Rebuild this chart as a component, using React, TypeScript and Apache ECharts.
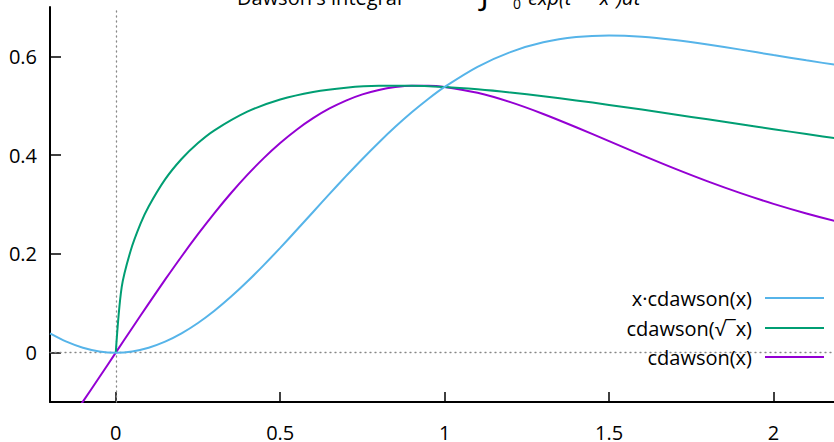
import React, { useEffect, useRef } from "react";
import * as echarts from "echarts";

// x samples for cdawson(x) and x·cdawson(x)
const X_MAIN = [
  -0.2, -0.15, -0.1, -0.05, 0, 0.05, 0.1, 0.15, 0.2, 0.25, 0.3, 0.35, 0.4, 0.45, 0.5,
  0.55, 0.6, 0.65, 0.7, 0.75, 0.8, 0.85, 0.9, 0.95, 1.0, 1.1, 1.2, 1.3, 1.4, 1.5, 1.6,
  1.7, 1.8, 1.9, 2.0, 2.1, 2.2, 2.3,
];
// cdawson(x)
const DAWSON = [
  -0.194751, -0.14777, -0.099336, -0.049917, 0, 0.049917, 0.099336, 0.14777, 0.194751,
  0.239839, 0.282632, 0.32277, 0.359943, 0.393899, 0.424436, 0.451418, 0.474763,
  0.494448, 0.510504, 0.523013, 0.532102, 0.537939, 0.540724, 0.540688, 0.53808,
  0.526207, 0.507273, 0.483398, 0.456507, 0.428249, 0.39994, 0.372559, 0.346773,
  0.322974, 0.30134, 0.281885, 0.264511, 0.249053,
];
// x·cdawson(x)
const X_DAWSON = [
  0.03895, 0.022166, 0.009934, 0.002496, 0, 0.002496, 0.009934, 0.022166, 0.03895,
  0.05996, 0.08479, 0.11297, 0.143977, 0.177255, 0.212218, 0.24828, 0.284858, 0.321391,
  0.357353, 0.39226, 0.425682, 0.457248, 0.486652, 0.513654, 0.53808, 0.578828,
  0.608728, 0.628417, 0.63911, 0.642374, 0.639904, 0.63335, 0.624191, 0.613651,
  0.602681, 0.591958, 0.581924, 0.572822,
];
// x samples for cdawson(√x)
const X_SQRT = [
  0, 0.018, 0.045, 0.075, 0.1, 0.15, 0.2, 0.25, 0.3, 0.4, 0.5, 0.6, 0.7, 0.8, 0.9, 1.0,
  1.1, 1.2, 1.3, 1.4, 1.5, 1.6, 1.7, 1.8, 1.9, 2.0, 2.1, 2.2, 2.3,
];
const DAWSON_SQRT = [
  0, 0.132566, 0.205881, 0.26057, 0.295966, 0.350795, 0.392096, 0.424436, 0.450269,
  0.487959, 0.512496, 0.527902, 0.536691, 0.540558, 0.540724, 0.53808, 0.533263,
  0.526918, 0.51935, 0.510854, 0.501741, 0.492226, 0.48241, 0.472444, 0.462484,
  0.452539, 0.442674, 0.433021, 0.423529,
];

const X_TICKS = [0, 0.5, 1, 1.5, 2];
const Y_TICKS = [0, 0.2, 0.4, 0.6];

const NAMES = ["x·cdawson(x)", "cdawson(√‾x)", "cdawson(x)"];
const COLORS = ["#56b4e9", "#009e73", "#9400d3"];
const LEGEND_TOPS = [286, 316, 345];

const FONT = "'Open Sans', 'Noto Sans', sans-serif";

export default function App() {
  const ref = useRef<HTMLDivElement>(null);
  useEffect(() => {
    if (!ref.current) return;
    const chart = echarts.init(ref.current, undefined, { renderer: "svg" });
    const zip = (xs: number[], ys: number[]) => xs.map((x, i) => [x, ys[i]]);
    const lineSeries = (name: string, color: string, data: number[][], extra: any = {}) => ({
      type: "line",
      name,
      data,
      showSymbol: false,
      symbol: "none",
      smooth: 0.3,
      clip: true,
      lineStyle: { color, width: 2 },
      itemStyle: { color },
      ...extra,
    });
    const option: any = {
      animation: false,
      textStyle: { fontFamily: FONT },
      grid: { left: 50, right: 0, top: 7, bottom: 40 },
      xAxis: {
        type: "value",
        min: -0.2,
        max: 2.184,
        axisLine: { show: true, onZero: false, lineStyle: { color: "#000", width: 2 } },
        axisTick: {
          show: true,
          inside: true,
          length: 10,
          customValues: X_TICKS,
          lineStyle: { color: "#000", width: 1.5 },
        },
        axisLabel: {
          customValues: X_TICKS,
          color: "#000",
          fontSize: 20,
          fontFamily: FONT,
          margin: 20,
          formatter: (v: number) => String(v),
        },
        splitLine: { show: false },
      },
      yAxis: {
        type: "value",
        min: -0.1,
        max: 0.7,
        axisLine: { show: true, onZero: false, lineStyle: { color: "#000", width: 2 } },
        axisTick: {
          show: true,
          inside: true,
          length: 11,
          customValues: Y_TICKS,
          lineStyle: { color: "#000", width: 1.5 },
        },
        axisLabel: {
          customValues: Y_TICKS,
          color: "#000",
          fontSize: 20,
          fontFamily: FONT,
          margin: 13,
          formatter: (v: number) => String(v),
        },
        splitLine: { show: false },
      },
      legend: NAMES.map((n, i) => ({
        data: [n],
        right: 10,
        top: LEGEND_TOPS[i],
        padding: 0,
        orient: "horizontal",
        align: "right",
        icon: "rect",
        itemWidth: 59,
        itemHeight: 2,
        selectedMode: false,
        textStyle: {
          fontSize: 20,
          color: "#000",
          fontFamily: FONT,
          lineHeight: 24,
          padding: [0, 8, 0, 0],
        },
      })),
      graphic: [
        {
          type: "text",
          x: 237,
          y: -3,
          style: { text: "Dawson's integral", font: `20px ${FONT}`, fill: "#000", verticalAlign: "middle" },
        },
        {
          type: "text",
          x: 478,
          y: -10,
          style: { text: "∫", font: `italic 34px ${FONT}`, fill: "#000", verticalAlign: "middle" },
        },
        {
          type: "text",
          x: 513,
          y: 3,
          style: { text: "0", font: `14px ${FONT}`, fill: "#000", verticalAlign: "middle" },
        },
        {
          type: "text",
          x: 528,
          y: -3,
          style: { text: "exp(t² − x²)dt", font: `italic 20px ${FONT}`, fill: "#000", verticalAlign: "middle" },
        },
      ],
      series: [
        lineSeries(NAMES[2], COLORS[2], zip(X_MAIN, DAWSON), {
          z: 3,
          markLine: {
            silent: true,
            symbol: "none",
            animation: false,
            label: { show: false },
            lineStyle: { type: [1, 4], color: "#888", width: 1.3, cap: "round" },
            emphasis: { disabled: true },
            data: [{ xAxis: 0 }, { yAxis: 0 }],
            z: 1,
          },
        }),
        lineSeries(NAMES[1], COLORS[1], zip(X_SQRT, DAWSON_SQRT), { z: 4 }),
        lineSeries(NAMES[0], COLORS[0], zip(X_MAIN, X_DAWSON), { z: 5 }),
      ],
    };
    chart.setOption(option);
    return () => chart.dispose();
  }, []);
  return <div ref={ref} style={{ width: 834, height: 442, position: "absolute", left: 0, top: 0 }} />;
}
